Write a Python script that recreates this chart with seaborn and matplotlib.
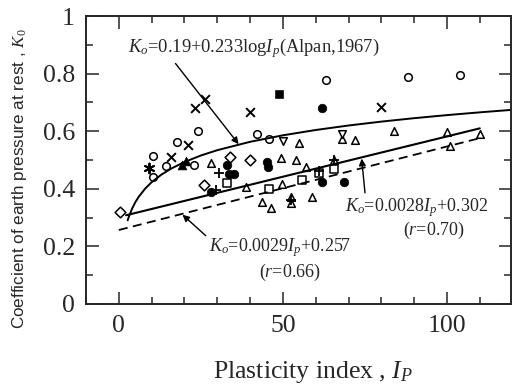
import numpy as np
import pandas as pd
import matplotlib
matplotlib.use("Agg")
import matplotlib.pyplot as plt
import seaborn as sns
from matplotlib.ticker import MultipleLocator, FixedLocator, FixedFormatter

# scatter points (Ip, K0), grouped by marker
open_circle_x = [10.3, 10.3, 14.5, 17.6, 23.0, 24.0, 42.0, 45.8, 63.0, 88.0, 104.0]
open_circle_y = [0.514, 0.44, 0.48, 0.562, 0.483, 0.60, 0.59, 0.573, 0.778, 0.788, 0.795]

filled_circle_x = [28.0, 33.0, 33.6, 35.0, 45.0, 45.6, 62.0, 62.0, 68.5]
filled_circle_y = [0.388, 0.483, 0.452, 0.452, 0.492, 0.476, 0.68, 0.424, 0.424]

cross_x = [16.0, 21.2, 23.3, 26.4, 40.0, 80.0]
cross_y = [0.51, 0.552, 0.68, 0.712, 0.667, 0.684]

star_x = [9.1]
star_y = [0.472]

filled_tri_x = [19.2, 20.6]
filled_tri_y = [0.482, 0.497]

filled_square_x = [48.8]
filled_square_y = [0.729]

open_tri_x = [28.0, 38.8, 43.6, 46.4, 49.4, 49.7, 52.4, 52.4, 54.0, 55.0, 57.0, 59.0,
              65.5, 68.0, 72.0, 84.0, 100.0, 101.0, 110.0]
open_tri_y = [0.49, 0.406, 0.354, 0.333, 0.507, 0.417, 0.37, 0.35, 0.50, 0.56, 0.477, 0.37,
              0.50, 0.572, 0.57, 0.60, 0.597, 0.55, 0.59]

inv_tri_x = [50.0, 68.0]
inv_tri_y = [0.566, 0.592]

diamond_x = [0.3, 26.0, 34.0, 40.0]
diamond_y = [0.32, 0.413, 0.51, 0.50]

open_square_x = [33.0, 45.8, 55.8, 61.0, 65.5]
open_square_y = [0.42, 0.40, 0.43, 0.455, 0.47]

plus_x = [29.7, 30.6, 52.4, 61.0, 65.5]
plus_y = [0.395, 0.455, 0.36, 0.462, 0.50]

# fitted relations written on the chart
alpan_a, alpan_b = 0.19, 0.233
alpan_ip = [2.7, 3, 4, 5, 6, 8, 10, 13, 16, 20, 25, 30, 40, 50, 60, 70, 80, 90, 100, 110, 120]
lin1_a, lin1_b = 0.0028, 0.302
lin1_ip = [2.2, 110]
lin2_a, lin2_b = 0.0029, 0.257
lin2_ip = [0.0, 110]

sns.set_style("ticks")
plt.rcParams["font.family"] = ["Liberation Serif", "DejaVu Serif"]
plt.rcParams["mathtext.fontset"] = "custom"
plt.rcParams["mathtext.rm"] = "Liberation Serif"
plt.rcParams["mathtext.it"] = "Liberation Serif:italic"

fig = plt.figure(figsize=(5.12, 3.87), dpi=100)
ax = fig.add_axes([0.168, 0.2145, 0.830, 0.744])

def pts(xs, ys):
    return pd.DataFrame({"Ip": xs, "K0": ys})

ms = 30
sns.scatterplot(data=pts(open_circle_x, open_circle_y), x="Ip", y="K0", marker="o",
                s=ms, facecolor="white", edgecolor="black", linewidth=1.1, ax=ax)
sns.scatterplot(data=pts(filled_circle_x, filled_circle_y), x="Ip", y="K0", marker="o",
                s=ms + 8, color="black", edgecolor="black", ax=ax)
sns.scatterplot(data=pts(cross_x, cross_y), x="Ip", y="K0", marker="x",
                s=ms + 10, color="black", linewidth=1.4, ax=ax)
sns.scatterplot(data=pts(star_x, star_y), x="Ip", y="K0", marker=(6, 2, 0),
                s=ms + 20, color="black", linewidth=1.4, ax=ax)
sns.scatterplot(data=pts(filled_tri_x, filled_tri_y), x="Ip", y="K0", marker="^",
                s=ms + 10, color="black", edgecolor="black", ax=ax)
sns.scatterplot(data=pts(filled_square_x, filled_square_y), x="Ip", y="K0", marker="s",
                s=ms, color="black", edgecolor="black", ax=ax)
sns.scatterplot(data=pts(open_tri_x, open_tri_y), x="Ip", y="K0", marker="^",
                s=ms, facecolor="white", edgecolor="black", linewidth=1.1, ax=ax)
sns.scatterplot(data=pts(inv_tri_x, inv_tri_y), x="Ip", y="K0", marker="v",
                s=ms, facecolor="white", edgecolor="black", linewidth=1.1, ax=ax)
sns.scatterplot(data=pts(diamond_x, diamond_y), x="Ip", y="K0", marker="D",
                s=ms, facecolor="white", edgecolor="black", linewidth=1.1, ax=ax)
sns.scatterplot(data=pts(open_square_x, open_square_y), x="Ip", y="K0", marker="s",
                s=ms, facecolor="white", edgecolor="black", linewidth=1.1, ax=ax)
sns.scatterplot(data=pts(plus_x, plus_y), x="Ip", y="K0", marker="+",
                s=ms + 20, color="black", linewidth=1.3, ax=ax)

alpan_ip = np.array(alpan_ip)
sns.lineplot(x=alpan_ip, y=alpan_a + alpan_b * np.log10(alpan_ip), color="black", lw=1.4, ax=ax)
lin1_ip = np.array(lin1_ip)
sns.lineplot(x=lin1_ip, y=lin1_a * lin1_ip + lin1_b, color="black", lw=1.5, ax=ax)
lin2_ip = np.array(lin2_ip)
sns.lineplot(x=lin2_ip, y=lin2_a * lin2_ip + lin2_b, color="black", lw=1.3,
             linestyle=(0, (5, 3)), ax=ax)

arrow = dict(arrowstyle="-|>", color="black", lw=1.0, mutation_scale=10, shrinkA=0, shrinkB=0)
ax.annotate(r"$K_o$=0.19+0.233log$I_p$(Alpan,1967)", xy=(36.5, 0.555), xytext=(2.7, 0.888),
            fontsize=13.3, va="center", ha="left", arrowprops=dict(arrow, relpos=(0.18, 0.0)))
ax.annotate(r"$K_o$=0.0028$I_p$+0.302", xy=(74, 0.505), xytext=(69, 0.335),
            fontsize=13, va="center", ha="left", arrowprops=dict(arrow, relpos=(0.14, 1.0)))
ax.text(96, 0.255, r"($r$=0.70)", fontsize=13, ha="center", va="center")
ax.annotate(r"$K_o$=0.0029$I_p$+0.257", xy=(19.4, 0.31), xytext=(27.5, 0.195),
            fontsize=13, va="center", ha="left", arrowprops=dict(arrow, relpos=(0.0, 0.9)))
ax.text(52, 0.11, r"($r$=0.66)", fontsize=13, ha="center", va="center")

ax.set_xlim(-10, 119.5)
ax.set_ylim(0, 1)
ax.xaxis.set_major_locator(FixedLocator([0, 50, 100]))
ax.xaxis.set_minor_locator(MultipleLocator(10))
ax.yaxis.set_major_locator(FixedLocator([0, 0.2, 0.4, 0.6, 0.8, 1.0]))
ax.yaxis.set_major_formatter(FixedFormatter(["0", "0.2", "0.4", "0.6", "0.8", "1"]))
ax.yaxis.set_minor_locator(MultipleLocator(0.1))
ax.tick_params(which="both", direction="in", top=True, right=True, width=1.1)
ax.tick_params(which="major", length=9, labelsize=18.5, pad=8)
ax.tick_params(which="minor", length=5)
for s in ax.spines.values():
    s.set_linewidth(1.4)

ax.set_xlabel(r"Plasticity index , $I_P$", fontsize=18.5)
ax.xaxis.set_label_coords(0.534, -0.19)
ax.set_ylabel(r"Coefficient of earth pressure at rest , $K_0$", fontsize=12.3,
              family=["Liberation Sans", "DejaVu Sans"])
ax.yaxis.set_label_coords(-0.135, 0.435)

fig.savefig("out.png", dpi=100)
